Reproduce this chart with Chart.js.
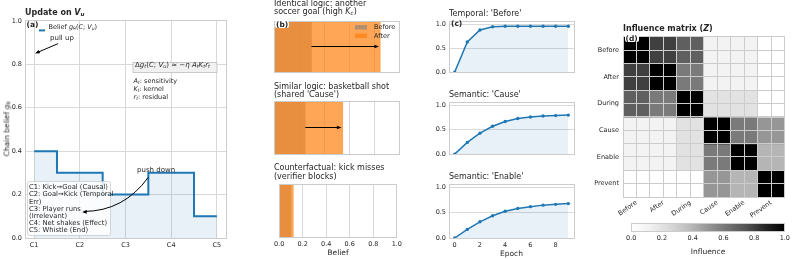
<!DOCTYPE html>
<html>
<head>
<meta charset="utf-8">
<script src="https://cdn.jsdelivr.net/npm/chart.js@4.4.1/dist/chart.umd.min.js"></script>
<style>
  html, body { margin: 0; padding: 0; background: #fff; }
  #fig { position: relative; width: 793px; height: 259px; overflow: hidden;
         font-family: 'DejaVu Sans', sans-serif; color: #262626; }
  #fig canvas { position: absolute; }
  .t { position: absolute; white-space: nowrap; line-height: 1; }
  .t sub { font-size: 70%; vertical-align: -0.25em; line-height: 0; }
  .b { font-weight: bold; }
  .tag { background: #fff; border-radius: 2px; padding: 0 1px; }
</style>
</head>
<body>
<div id="fig">
  <canvas id="cA"></canvas>
  <canvas id="cB0"></canvas>
  <canvas id="cB1"></canvas>
  <canvas id="cB2"></canvas>
  <canvas id="cC0"></canvas>
  <canvas id="cC1"></canvas>
  <canvas id="cC2"></canvas>
  <canvas id="cD"></canvas>
  <canvas id="cBar"></canvas>
</div>
<script>
// ---- data ----
const chainLabels = ['C1', 'C2', 'C3', 'C4', 'C5'];
const chainBelief = [0.4, 0.3, 0.2, 0.3, 0.1];

const beliefBefore = [0.30, 0.25, 0.10];
const beliefAfter = [0.85, 0.55, 0.12];

const epochs = [0, 1, 2, 3, 4, 5, 6, 7, 8, 9];
const temporalBefore = [0, 0.63, 0.88, 0.95, 0.96, 0.96, 0.96, 0.96, 0.96, 0.96];
const semanticCause = [0, 0.24, 0.43, 0.57, 0.67, 0.73, 0.76, 0.78, 0.79, 0.80];
const semanticEnable = [0, 0.17, 0.32, 0.44, 0.53, 0.585, 0.62, 0.65, 0.665, 0.68];

const relations = ['Before', 'After', 'During', 'Cause', 'Enable', 'Prevent'];
const zBefore  = [1.0, 0.8, 0.7, 0.1, 0.1, 0.0];
const zAfter   = [0.8, 1.0, 0.6, 0.1, 0.1, 0.0];
const zDuring  = [0.7, 0.6, 1.0, 0.2, 0.2, 0.0];
const zCause   = [0.1, 0.1, 0.2, 1.0, 0.6, 0.5];
const zEnable  = [0.1, 0.1, 0.2, 0.6, 1.0, 0.4];
const zPrevent = [0.0, 0.0, 0.0, 0.5, 0.4, 1.0];

const colorbarTicks = [0, 0.2, 0.4, 0.6, 0.8, 1.0];

// ---- look ----
Chart.defaults.font.family = "'DejaVu Sans', sans-serif";
Chart.defaults.font.size = 6.5;
Chart.defaults.color = '#262626';
Chart.defaults.animation = false;
Chart.defaults.responsive = false;
Chart.defaults.events = [];
Chart.defaults.plugins.legend.display = false;
Chart.defaults.plugins.tooltip.enabled = false;

const GRID = '#d9d9d9', EDGE = '#cccccc', BLUE = '#1f77b4';
const FILL = 'rgba(31,119,180,0.1)';
const GREYS = ['#ffffff', '#f0f0f0', '#d9d9d9', '#bdbdbd', '#969696', '#737373', '#525252', '#252525', '#000000'];

function greys(v) {
  const p = Math.min(Math.max(v, 0), 1) * 8, i = Math.min(Math.floor(p), 7), f = p - i;
  const a = parseInt(GREYS[i].slice(1, 3), 16), b = parseInt(GREYS[i + 1].slice(1, 3), 16);
  const g = Math.round(a + (b - a) * f);
  return `rgb(${g},${g},${g})`;
}

// put a canvas so that its chart area lands on (l,t)-(r,b) of the figure
function place(id, l, t, r, b, o) {
  o = Object.assign({ yw: 0, xh: 0, pl: 0, pt: 4, pr: 6, pb: 4 }, o);
  const c = document.getElementById(id);
  c.width = Math.round(r - l + o.yw + o.pl + o.pr);
  c.height = Math.round(b - t + o.pt + o.xh + o.pb);
  c.style.left = (l - o.yw - o.pl) + 'px';
  c.style.top = (t - o.pt) + 'px';
  return { el: c, yw: o.yw, xh: o.xh,
    layout: { autoPadding: false, padding: { left: o.pl, top: o.pt, right: o.pr, bottom: o.pb } } };
}

function text(html, x, base, size, cls, align) {
  const d = document.createElement('div');
  d.className = 't ' + (cls || '');
  d.innerHTML = html;
  d.style.fontSize = size + 'px';
  d.style.left = x + 'px';
  d.style.top = (base - 0.846 * size) + 'px';
  if (align === 'center') d.style.transform = 'translateX(-50%)';
  if (align === 'right') d.style.transform = 'translateX(-100%)';
  document.getElementById('fig').appendChild(d);
  return d;
}

const frame = {
  id: 'frame',
  afterDatasetsDraw(chart) {
    const { ctx, chartArea: a } = chart;
    const l = Math.floor(a.left) + 0.5, t = Math.floor(a.top) + 0.5;
    const r = Math.floor(a.right) + 0.5, b = Math.floor(a.bottom) + 0.5;
    ctx.save();
    ctx.strokeStyle = EDGE;
    ctx.lineWidth = 1;
    ctx.strokeRect(l, t, r - l, b - t);
    ctx.restore();
  }
};

function head(ctx, fx, fy, tx, ty, size) {
  const ang = Math.atan2(ty - fy, tx - fx);
  ctx.beginPath();
  ctx.moveTo(tx, ty);
  ctx.lineTo(tx - size * Math.cos(ang - 0.38), ty - size * Math.sin(ang - 0.38));
  ctx.lineTo(tx - size * Math.cos(ang + 0.38), ty - size * Math.sin(ang + 0.38));
  ctx.closePath();
  ctx.fill();
}

function arrow(ctx, fx, fy, tx, ty) {
  const ang = Math.atan2(ty - fy, tx - fx);
  ctx.beginPath();
  ctx.moveTo(fx, fy);
  ctx.lineTo(tx - 3 * Math.cos(ang), ty - 3 * Math.sin(ang));
  ctx.stroke();
  head(ctx, fx, fy, tx, ty, 5);
}

const tickFont = { size: 6.5 };
const labelFont = { size: 7.5 };

// ---- (a) update on V_u ----
const pa = place('cA', 25, 19, 226, 238, { yw: 25, xh: 16, pt: 5 });
const annotA = {
  id: 'annotA',
  afterDatasetsDraw(chart) {
    const { ctx, chartArea: a, scales: { x, y } } = chart;
    ctx.save();
    // legend handle
    ctx.strokeStyle = BLUE; ctx.lineWidth = 2;
    ctx.beginPath(); ctx.moveTo(a.left + 14, a.top + 9.5); ctx.lineTo(a.left + 20, a.top + 9.5); ctx.stroke();
    // formula box
    ctx.fillStyle = '#f1f1f1'; ctx.strokeStyle = '#bdbdbd'; ctx.lineWidth = 0.8;
    ctx.fillRect(a.left + 108, a.top + 41.5, 84, 10);
    ctx.strokeRect(a.left + 108, a.top + 41.5, 84, 10);
    // chain legend box
    ctx.fillStyle = 'rgba(255,255,255,0.8)'; ctx.strokeStyle = EDGE;
    ctx.beginPath(); ctx.roundRect(a.left + 2.5, a.bottom - 56.5, 83, 54, 2); ctx.fill(); ctx.stroke();
    // pull up
    ctx.strokeStyle = '#000'; ctx.fillStyle = '#000'; ctx.lineWidth = 1;
    arrow(ctx, x.getPixelForValue(0.52), y.getPixelForValue(0.895), x.getPixelForValue(0.02), y.getPixelForValue(0.85));
    // push down (curved)
    const fx = x.getPixelForValue(2.5), fy = y.getPixelForValue(0.28);
    const tx = x.getPixelForValue(1.05), ty = y.getPixelForValue(0.12);
    const cx = (fx + tx) / 2 + 0.25 * (ty - fy), cy = (fy + ty) / 2 - 0.25 * (tx - fx);
    ctx.beginPath(); ctx.moveTo(fx, fy); ctx.quadraticCurveTo(cx, cy, tx + 2, ty - 0.5); ctx.stroke();
    head(ctx, cx, cy, tx, ty, 5);
    ctx.restore();
  }
};
new Chart(pa.el, {
  type: 'line',
  data: { datasets: [{
    data: chainBelief.map((v, i) => ({ x: i, y: v })),
    stepped: 'middle', borderColor: BLUE, borderWidth: 2, pointRadius: 0,
    fill: 'origin', backgroundColor: FILL
  }] },
  options: {
    layout: pa.layout,
    scales: {
      x: { type: 'linear', min: -0.2, max: 4.2,
        afterBuildTicks: s => { s.ticks = chainLabels.map((c, i) => ({ value: i })); },
        ticks: { callback: v => chainLabels[v], padding: 3, font: tickFont },
        grid: { color: GRID, drawTicks: false }, border: { display: false },
        afterFit: s => { s.height = pa.xh; } },
      y: { min: 0, max: 1,
        ticks: { stepSize: 0.2, callback: v => v.toFixed(1), padding: 3, font: tickFont },
        grid: { color: GRID, drawTicks: false }, border: { display: false },
        afterFit: s => { s.width = pa.yw; } }
    }
  },
  plugins: [frame, annotA]
});

// ---- (b) belief before / after ----
const bBoxes = [[21, 72], [101, 154], [184, 237]];
bBoxes.forEach(([t, b], i) => {
  const last = i === bBoxes.length - 1;
  const p = place('cB' + i, 274, t, 399, b, { pl: 3, xh: last ? 21 : 0, pb: last ? 0 : 3, pt: 3 });
  const annotB = {
    id: 'annotB' + i,
    afterDatasetsDraw(chart) {
      const { ctx, chartArea: a, scales: { x, y } } = chart;
      ctx.save();
      ctx.strokeStyle = '#000'; ctx.fillStyle = '#000'; ctx.lineWidth = 1.2;
      if (beliefAfter[i] - beliefBefore[i] > 0.1) {
        const yy = y.getPixelForValue(0);
        arrow(ctx, x.getPixelForValue(beliefBefore[i]), yy, x.getPixelForValue(beliefAfter[i] - 0.01), yy);
      }
      if (i === 0) {
        ctx.fillStyle = 'rgba(128,128,128,0.6)';
        ctx.fillRect(a.right - 44, a.top + 4, 12, 4.5);
        ctx.fillStyle = 'rgba(255,127,14,0.7)';
        ctx.fillRect(a.right - 44, a.top + 12.5, 12, 4.5);
      }
      ctx.restore();
    }
  };
  new Chart(p.el, {
    type: 'bar',
    data: { labels: [''], datasets: [
      { label: 'Before', data: [beliefBefore[i]], backgroundColor: 'rgba(128,128,128,0.6)', order: 2 },
      { label: 'After', data: [beliefAfter[i]], backgroundColor: 'rgba(255,127,14,0.7)', order: 1 }
    ] },
    options: {
      indexAxis: 'y',
      layout: p.layout,
      datasets: { bar: { grouped: false, categoryPercentage: 1, barPercentage: 1 } },
      scales: {
        x: { min: 0, max: 1,
          ticks: { display: last, stepSize: 0.2, callback: v => v.toFixed(1), padding: 3, font: tickFont },
          grid: { color: GRID, drawTicks: false }, border: { display: false },
          title: { display: last, text: 'Belief', font: labelFont, padding: 0 },
          afterFit: s => { s.height = p.xh; } },
        y: { display: false }
      }
    },
    plugins: [frame, annotB]
  });
});

// ---- (c) learning curves ----
const cSeries = [temporalBefore, semanticCause, semanticEnable];
const cBoxes = [[19, 75], [100, 157], [182, 238]];
cSeries.forEach((series, i) => {
  const [t, b] = cBoxes[i];
  const last = i === cSeries.length - 1;
  const p = place('cC' + i, 449, t, 574, b, { yw: 20, xh: last ? 21 : 0, pb: last ? 0 : 4 });
  new Chart(p.el, {
    type: 'line',
    data: { datasets: [{
      data: epochs.map((e, k) => ({ x: e, y: series[k] })),
      borderColor: BLUE, borderWidth: 1.5, pointRadius: 1.7, pointBorderWidth: 0,
      pointBackgroundColor: BLUE, fill: 'origin', backgroundColor: FILL
    }] },
    options: {
      layout: p.layout,
      scales: {
        x: { type: 'linear', min: -0.45, max: 9.45, display: last,
          afterBuildTicks: s => { s.ticks = epochs.filter(e => e % 2 === 0).map(e => ({ value: e })); },
          ticks: { padding: 3, font: tickFont },
          grid: { display: false, drawTicks: false }, border: { display: false },
          title: { display: true, text: 'Epoch', font: labelFont, padding: 0 },
          afterFit: s => { s.height = p.xh; } },
        y: { min: 0, max: 1.05,
          afterBuildTicks: s => { s.ticks = [0, 0.5, 1].map(v => ({ value: v })); },
          ticks: { callback: v => v.toFixed(1), padding: 3, font: tickFont },
          grid: { color: GRID, drawTicks: false }, border: { display: false },
          afterFit: s => { s.width = p.yw; } }
      }
    },
    plugins: [frame]
  });
});

// ---- (d) influence matrix ----
const zRows = [zBefore, zAfter, zDuring, zCause, zEnable, zPrevent];
const nCells = zRows.length * 2;
const pd = place('cD', 623, 33, 787, 197, { yw: 33, xh: 30, pr: 4 });
const hmSets = [];
for (let r = 0; r < nCells; r++) {
  const row = zRows[Math.floor(r / 2)];
  const data = [], colors = [];
  for (let c = 0; c < nCells; c++) {
    data.push({ x: c + 0.5, y: [r, r + 1] });
    colors.push(greys(row[Math.floor(c / 2)]));
  }
  hmSets.push({ data, backgroundColor: colors, grouped: false, categoryPercentage: 1, barPercentage: 1, inflateAmount: 0.5 });
}
const cellTicks = s => { s.ticks = []; for (let k = 0; k <= nCells; k++) s.ticks.push({ value: k }); };
const cellLabel = v => (v % 2 === 1 ? relations[(v - 1) / 2] : '');
new Chart(pd.el, {
  type: 'bar',
  data: { datasets: hmSets },
  options: {
    layout: pd.layout,
    scales: {
      x: { type: 'linear', min: 0, max: nCells, offset: false,
        afterBuildTicks: cellTicks,
        ticks: { callback: cellLabel, autoSkip: false, minRotation: 35, maxRotation: 35, padding: 2, font: tickFont },
        grid: { color: EDGE, drawTicks: false, offset: false, z: 1 }, border: { display: false },
        afterFit: s => { s.height = pd.xh; } },
      y: { type: 'linear', min: 0, max: nCells, reverse: true,
        afterBuildTicks: cellTicks,
        ticks: { callback: cellLabel, autoSkip: false, padding: 4, font: tickFont },
        grid: { color: EDGE, drawTicks: false, z: 1 }, border: { display: false },
        afterFit: s => { s.width = pd.yw; } }
    }
  },
  plugins: [frame]
});

// colorbar
const pc = place('cBar', 623, 223, 787, 231, { xh: 26, pt: 2, pr: 6, pb: 0 });
new Chart(pc.el, {
  type: 'bar',
  data: { labels: [''], datasets: [{
    data: [[colorbarTicks[0], colorbarTicks[colorbarTicks.length - 1]]],
    backgroundColor: c => {
      const a = c.chart.chartArea;
      if (!a) return '#888';
      const g = c.chart.ctx.createLinearGradient(a.left, 0, a.right, 0);
      GREYS.forEach((col, k) => g.addColorStop(k / (GREYS.length - 1), col));
      return g;
    }
  }] },
  options: {
    indexAxis: 'y',
    layout: pc.layout,
    datasets: { bar: { categoryPercentage: 1, barPercentage: 1 } },
    scales: {
      x: { min: 0, max: 1,
        afterBuildTicks: s => { s.ticks = colorbarTicks.map(v => ({ value: v })); },
        ticks: { callback: v => v.toFixed(1), padding: 3, font: tickFont },
        grid: { display: false, drawTicks: false }, border: { display: false },
        title: { display: true, text: 'Influence', font: labelFont, padding: 0 },
        afterFit: s => { s.height = pc.xh; } },
      y: { display: false }
    }
  },
  plugins: [frame]
});

// ---- text ----
text('Update on <i>V</i><sub><i>u</i></sub>', 25, 16, 8, 'b');
text('(a)', 26.5, 27, 7.5, 'b');
text('Belief <i>g</i><sub>θ</sub>(<i>C</i>; <i>V</i><sub><i>u</i></sub>)', 48.5, 29, 6.5);
text('pull up', 50, 40.5, 7);
text('Δ<i>g</i><sub><i>t</i></sub>(<i>C</i>; <i>V</i><sub><i>u</i></sub>) ≈ −<i>η</i> <i>A</i><sub><i>t</i></sub><i>K</i><sub><i>t</i></sub><i>r</i><sub><i>t</i></sub>', 135, 67.5, 7);
text('<i>A</i><sub><i>t</i></sub>: sensitivity', 133.5, 83, 6.5);
text('<i>K</i><sub><i>t</i></sub>: kernel', 133.5, 91, 6.5);
text('<i>r</i><sub><i>t</i></sub>: residual', 133.5, 99, 6.5);
text('push down', 137, 172.5, 7);
['C1: Kick→Goal (Causal)', 'C2: Goal→Kick (Temporal', 'Err)', 'C3: Player runs', '(Irrelevant)',
 'C4: Net shakes (Effect)', 'C5: Whistle (End)'].forEach((s, k) => text(s, 29, 190 + k * 7.2, 6.8));
const yl = text('Chain belief <i>g</i><sub>θ</sub>', 0, 0, 7.5);
yl.style.left = '7px'; yl.style.top = '128.5px';
yl.style.transform = 'translate(-50%, -50%) rotate(-90deg)';

text('(b)', 275, 27, 7.5, 'b tag');
text('Identical logic: another', 274, 6.5, 8);
text('soccer goal (high <i>K</i><sub><i>c</i></sub>)', 274, 15, 8);
text('Similar logic: basketball shot', 274, 89.5, 8);
text("(shared 'Cause')", 274, 98, 8);
text('Counterfactual: kick misses', 274, 171, 8);
text('(verifier blocks)', 274, 179.5, 8);
text('Before', 374, 29.5, 6.5);
text('After', 374, 38, 6.5);

text("Temporal: 'Before'", 449, 16.5, 8);
text("Semantic: 'Cause'", 449, 98, 8);
text("Semantic: 'Enable'", 449, 179.5, 8);
text('(c)', 451, 26, 7.5, 'b');

text('Influence matrix (<i>Z</i>)', 623, 31.5, 8, 'b');
text('(d)', 624.5, 41, 7.5, 'b tag');
</script>
</body>
</html>
